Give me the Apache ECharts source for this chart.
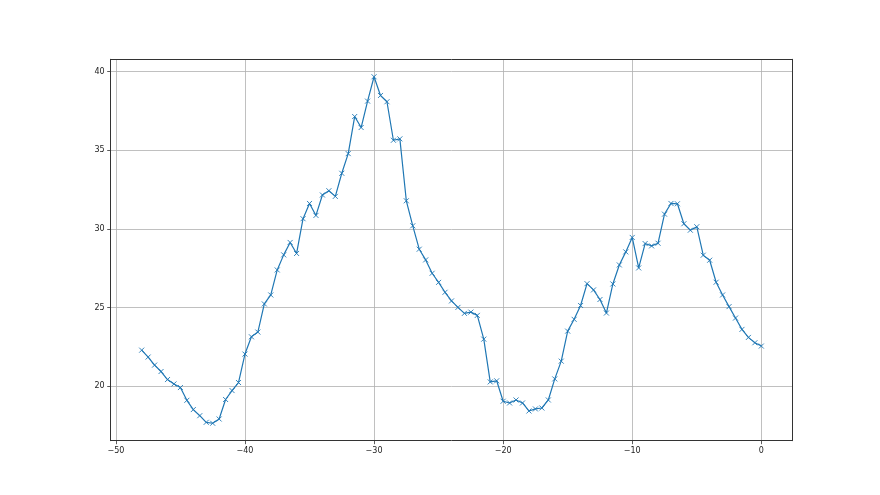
<!DOCTYPE html>
<html>
<head>
<meta charset="utf-8">
<style>
html,body{margin:0;padding:0;background:#fff;}
#chart{width:880px;height:495px;}
</style>
<script src="https://cdn.jsdelivr.net/npm/echarts@6/dist/echarts.min.js"></script>
</head>
<body>
<div id="chart"></div>
<script>
// x positions: -48 to 0 in steps of 0.5
const xValues = [
  -48,-47.5,-47,-46.5,-46,-45.5,-45,-44.5,-44,-43.5,-43,-42.5,-42,-41.5,-41,-40.5,
  -40,-39.5,-39,-38.5,-38,-37.5,-37,-36.5,-36,-35.5,-35,-34.5,-34,-33.5,-33,-32.5,
  -32,-31.5,-31,-30.5,-30,-29.5,-29,-28.5,-28,-27.5,-27,-26.5,-26,-25.5,-25,-24.5,
  -24,-23.5,-23,-22.5,-22,-21.5,-21,-20.5,-20,-19.5,-19,-18.5,-18,-17.5,-17,-16.5,
  -16,-15.5,-15,-14.5,-14,-13.5,-13,-12.5,-12,-11.5,-11,-10.5,-10,-9.5,-9,-8.5,
  -8,-7.5,-7,-6.5,-6,-5.5,-5,-4.5,-4,-3.5,-3,-2.5,-2,-1.5,-1,-0.5,0
];
const yValues = [
  22.29,21.85,21.34,20.93,20.42,20.14,19.91,19.10,18.51,18.12,17.70,17.64,17.91,19.15,19.72,20.23,
  22.04,23.14,23.44,25.23,25.80,27.39,28.35,29.14,28.44,30.65,31.62,30.86,32.16,32.43,32.07,33.54,
  34.79,37.15,36.45,38.13,39.68,38.49,38.09,35.64,35.73,31.79,30.20,28.71,28.03,27.18,26.60,25.97,
  25.42,25.01,24.63,24.71,24.50,22.99,20.27,20.34,19.04,18.93,19.12,18.93,18.42,18.55,18.61,19.12,
  20.46,21.59,23.50,24.25,25.13,26.52,26.12,25.51,24.65,26.50,27.71,28.54,29.46,27.52,29.07,28.92,
  29.09,30.94,31.62,31.60,30.33,29.92,30.14,28.33,28.01,26.61,25.80,25.06,24.33,23.61,23.10,22.76,22.55
];
const xTicks = [-50, -40, -30, -20, -10, 0];
const yTicks = [20, 25, 30, 35, 40];

const xMin = -50.4, xMax = 2.4;
const yMin = 16.53, yMax = 40.79;

const data = xValues.map((x, i) => [x, yValues[i]]);
const fmt = v => (v < 0 ? '\u2212' + Math.abs(v) : String(v));

const chart = echarts.init(document.getElementById('chart'), null, {renderer: 'canvas'});
const axisCommon = {
  axisLine: {show: true, onZero: false, lineStyle: {color: '#333', width: 1}},
  axisTick: {show: true, inside: false, length: 3.5, lineStyle: {color: '#333', width: 0.8}},
  axisLabel: {show: true, color: '#222', fontFamily: 'DejaVu Sans', fontSize: 8, margin: 6, formatter: fmt},
  splitLine: {show: true, lineStyle: {color: '#b0b0b0', width: 0.8}}
};
chart.setOption({
  animation: false,
  backgroundColor: '#fff',
  grid: {left: 110.7, right: 87.7, top: 59.3, bottom: 54.3, containLabel: false, show: false},
  xAxis: [{
    type: 'value', min: xMin, max: xMax, position: 'bottom',
    axisLine: axisCommon.axisLine,
    axisTick: Object.assign({}, axisCommon.axisTick, {customValues: xTicks}),
    axisLabel: Object.assign({}, axisCommon.axisLabel, {customValues: xTicks}),
    splitLine: axisCommon.splitLine
  }, {
    type: 'value', min: xMin, max: xMax, position: 'top',
    axisLine: {show: true, onZero: false, lineStyle: {color: '#333', width: 1}},
    axisTick: {show: false}, axisLabel: {show: false}, splitLine: {show: false}
  }],
  yAxis: [{
    type: 'value', min: yMin, max: yMax, position: 'left',
    axisLine: axisCommon.axisLine,
    axisTick: Object.assign({}, axisCommon.axisTick, {customValues: yTicks}),
    axisLabel: Object.assign({}, axisCommon.axisLabel, {customValues: yTicks}),
    splitLine: axisCommon.splitLine
  }, {
    type: 'value', min: yMin, max: yMax, position: 'right',
    axisLine: {show: true, onZero: false, lineStyle: {color: '#333', width: 1}},
    axisTick: {show: false}, axisLabel: {show: false}, splitLine: {show: false}
  }],
  series: [{
    type: 'line',
    data: data,
    xAxisIndex: 0, yAxisIndex: 0,
    lineStyle: {color: '#1f77b4', width: 1.2},
    symbol: 'path://M0,0L10,10M10,0L0,10',
    symbolSize: 5,
    showAllSymbol: true,
    itemStyle: {color: 'rgba(0,0,0,0)', borderColor: '#1f77b4', borderWidth: 0.9},
    emphasis: {disabled: true}
  }]
});
</script>
</body>
</html>
